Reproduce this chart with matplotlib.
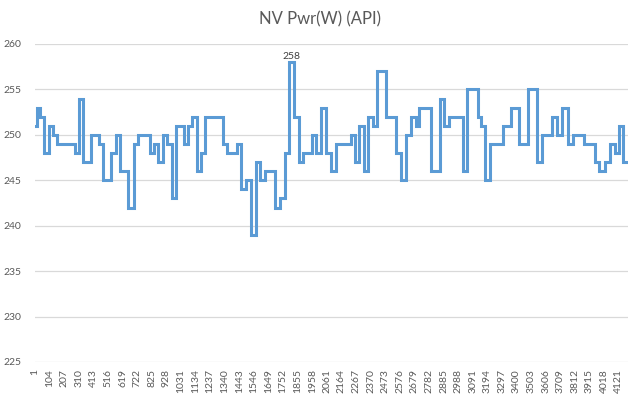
import numpy as np
import matplotlib
matplotlib.use("Agg")
import matplotlib.pyplot as plt

plt.rcParams['font.family'] = ['Lato', 'DejaVu Sans']

# step data: sample index where a new value starts, and that value
starts = [1, 15, 34, 65, 98, 128, 159, 282, 310, 336, 395, 452, 480, 537, 570,
          600, 659, 697, 730, 815, 843, 872, 905, 933, 966, 994, 1051, 1079,
          1112, 1143, 1171, 1202, 1325, 1355, 1426, 1457, 1493, 1528, 1561,
          1592, 1627, 1693, 1728, 1764, 1792, 1827, 1863, 1891, 1957, 1988,
          2021, 2056, 2087, 2123, 2229, 2259, 2288, 2323, 2353, 2387, 2417,
          2481, 2547, 2583, 2622, 2658, 2689, 2712, 2795, 2859, 2889, 2925,
          3019, 3054, 3125, 3149, 3179, 3213, 3302, 3361, 3420, 3479, 3543,
          3581, 3652, 3684, 3722, 3762, 3797, 3880, 3951, 3986, 4022, 4057,
          4093, 4123, 4151]
power = [251, 253, 252, 248, 251, 250, 249, 248, 254, 247, 250, 249, 245, 248,
         250, 246, 242, 249, 250, 248, 249, 247, 250, 249, 243, 251, 249, 251,
         252, 246, 248, 252, 249, 248, 249, 244, 245, 239, 247, 245, 246, 242,
         243, 248, 258, 252, 247, 248, 250, 248, 253, 248, 246, 249, 250, 247,
         251, 246, 252, 251, 257, 252, 248, 245, 250, 252, 251, 253, 246, 254,
         251, 252, 246, 255, 252, 251, 245, 249, 251, 253, 249, 255, 247, 250,
         252, 250, 253, 249, 250, 249, 247, 246, 247, 249, 248, 251, 247]
n_samples = 4187
peak_idx = 1809

tick_labels = list(range(1, 4122, 103))
y_ticks = list(range(225, 261, 5))

fig = plt.figure(figsize=(6.4, 3.98), dpi=100)
ax = fig.add_axes([35/640, 1 - 362/398, 593/640, 318/398])

xs = starts + [n_samples]
ys = power + [power[-1]]
ax.plot(xs, ys, drawstyle='steps-post', color='#5B9BD5', lw=2.2,
        solid_joinstyle='miter')

ax.annotate(str(max(power)), (peak_idx, max(power)), xytext=(0, 1),
            textcoords='offset points', ha='center', va='bottom',
            fontsize=7.5, color='#404040')

ax.set_xlim(0.5, n_samples + 0.5)
ax.set_ylim(225, 260)
ax.set_yticks(y_ticks)
ax.set_xticks(tick_labels)
ax.set_xticklabels([str(t) for t in tick_labels], rotation=90)
ax.grid(axis='y', color='#D9D9D9', lw=0.9)
ax.set_axisbelow(True)
for s in ax.spines.values():
    s.set_visible(False)
ax.tick_params(axis='both', length=0, labelsize=7.5, colors='#595959')
ax.tick_params(axis='y', pad=10)
ax.tick_params(axis='x', pad=5)

fig.text(0.5, 1 - 19/398, 'NV Pwr(W) (API)', ha='center', va='center',
         fontsize=12, color='#595959')

fig.savefig('out.png', dpi=100)
